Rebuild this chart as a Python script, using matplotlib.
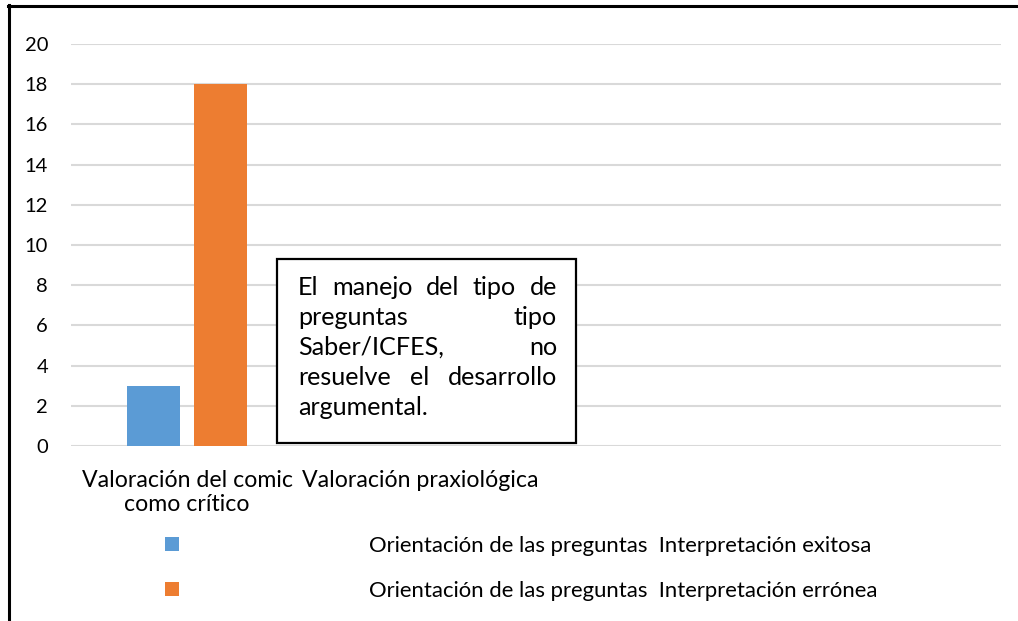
import matplotlib
matplotlib.use("Agg")
import matplotlib.pyplot as plt
from matplotlib.patches import Rectangle
from matplotlib.lines import Line2D
import numpy as np

categories = ["Valoración del comic\ncomo crítico", "Valoración praxiológica", "", ""]
exitosa = [3, 0, 0, 0]
erronea = [18, 0, 0, 0]
series_names = ["Orientación de las preguntas  Interpretación exitosa",
                "Orientación de las preguntas  Interpretación errónea"]
yticks = [0, 2, 4, 6, 8, 10, 12, 14, 16, 18, 20]
box_lines = ["El manejo del tipo de", "preguntas tipo", "Saber/ICFES, no",
             "resuelve el desarrollo", "argumental."]

BLUE = "#5B9BD5"
ORANGE = "#ED7D31"
FAM = "Lato"
W, H = 1018, 621

fig = plt.figure(figsize=(W / 100, H / 100), dpi=100)
r = fig.canvas.get_renderer()

def px(x):
    return x / W

def py(y):
    return 1 - y / H

def width_px(s, size, fam=FAM):
    t = fig.text(0, 0, s, fontsize=size, family=fam)
    w = t.get_window_extent(r).width
    t.remove()
    return w

def fit(s, target):
    return 10 * target / width_px(s, 10)

fs_tick = 14.5
fs_cat = fit("Valoración del comic", 211)
fs_leg = fit(series_names[0], 505)
fs_box = fit("argumental.", 130)

ax = fig.add_axes([px(71), py(446), px(1001) - px(71), py(44) - py(446)])
x = np.arange(len(categories))
bw = 0.228
off = 0.144
ax.bar(x - off, exitosa, bw, color=BLUE, zorder=3)
ax.bar(x + off, erronea, bw, color=ORANGE, zorder=3)
ax.set_xlim(-0.5, len(categories) - 0.5)
ax.set_ylim(0, 20)
ax.set_yticks(yticks)
ax.set_yticklabels([str(v) for v in yticks], fontsize=fs_tick, family=FAM)
ax.set_xticks(x)
ax.set_xticklabels(categories, fontsize=fs_cat, family=FAM, linespacing=1.18, va="top")
ax.tick_params(axis="y", length=0, pad=16.5)
ax.tick_params(axis="x", length=0, pad=17)
for s in ax.spines.values():
    s.set_visible(False)
ax.grid(axis="y", color="#d9d9d9", linewidth=1.5, zorder=0)
ax.set_axisbelow(True)

# outer frame (top & left visible)
fig.add_artist(Line2D([px(9), px(9)], [py(5), 0], color="black", linewidth=2.2))
fig.add_artist(Line2D([px(8), 1], [py(6), py(6)], color="black", linewidth=2.2))

# text box
fig.add_artist(Rectangle((px(277), py(443)), px(576) - px(277), py(259) - py(443),
                         transform=fig.transFigure, facecolor="white",
                         edgecolor="black", linewidth=1.6, zorder=5))
left, right = 298, 557
base0, pitch = 295, 30
for i, line in enumerate(box_lines):
    yb = py(base0 + i * pitch)
    words = line.split()
    if i == len(box_lines) - 1 or len(words) == 1:
        fig.text(px(left), yb, line, fontsize=fs_box, family=FAM, va="baseline", zorder=6)
        continue
    widths = [width_px(wd, fs_box) for wd in words]
    gap = (right - left - sum(widths)) / (len(words) - 1)
    xc = left
    for wd, wv in zip(words, widths):
        fig.text(px(xc), yb, wd, fontsize=fs_box, family=FAM, va="baseline", zorder=6)
        xc += wv + gap

# legend
for yy, col, name, yb in [(537, BLUE, series_names[0], 552), (582, ORANGE, series_names[1], 597)]:
    fig.add_artist(Rectangle((px(165), py(yy + 14)), px(14), 14 / H,
                             transform=fig.transFigure, facecolor=col, edgecolor="none"))
    fig.text(px(369), py(yb), name, fontsize=fs_leg, family=FAM, va="baseline")

fig.savefig("out.png", dpi=100)
